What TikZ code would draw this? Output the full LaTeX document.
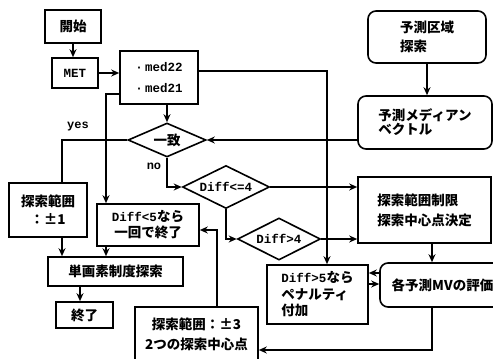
\documentclass[tikz,border=0pt]{standalone}
\usepackage{fontspec}
\setmainfont{Liberation Mono}
\newfontfamily\cjk{Noto Sans CJK JP}
\usetikzlibrary{shapes.geometric,arrows.meta}
\begin{document}
\begin{tikzpicture}[x=1pt,y=-1pt,
  every node/.style={font=\bfseries\fontsize{12.5}{16}\selectfont},
  bx/.style={draw, line width=1.6pt, inner sep=0pt, align=center},
  rbx/.style={bx, rounded corners=8pt},
  dia/.style={draw, line width=1.6pt, shape=diamond, inner sep=0pt, aspect=2.2},
  ln/.style={line width=1.6pt},
  arr/.style={ln, -{Stealth[length=8pt,width=7pt]}},
  lbl/.style={font=\bfseries\fontsize{12}{14}\selectfont}]
\useasboundingbox (0,0) rectangle (493,359);
% nodes
\node[bx, minimum width=56, minimum height=33, font=\cjk\bfseries\fontsize{13.5}{16}\selectfont] (start) at (73,26.5) {開始};
\node[bx, minimum width=46, minimum height=30] (met) at (75,73) {MET};
\node[bx, minimum width=78, minimum height=53, align=left, font=\bfseries\fontsize{12.5}{21}\selectfont] (med) at (159,77.5) {·\,med22\\·\,med21};
\node[dia, minimum width=78, minimum height=34, font=\cjk\bfseries\fontsize{13.5}{16}\selectfont] (itchi) at (167,140) {一致};
\node[rbx, minimum width=118, minimum height=52, align=left, font=\cjk\bfseries\fontsize{13.5}{19}\selectfont] (sr) at (427,37) {予測区域\\探索};
\node[rbx, minimum width=134, minimum height=53, align=left, font=\cjk\bfseries\fontsize{13.5}{14}\selectfont] (pmv) at (425,122.5) {予測メディアン\\ベクトル};
\node[bx, minimum width=78, minimum height=54, font=\cjk\bfseries\fontsize{13.5}{18}\selectfont] (pm1) at (48,210) {探索範囲\\：±1};
\node[bx, minimum width=102, minimum height=42, font=\bfseries\fontsize{12.5}{16}\selectfont] (d5) at (148,225) {Diff<5{\cjk\fontsize{13.5}{16}\selectfont なら}\\{\cjk\fontsize{13.5}{16}\selectfont 一回で終了}};
\node[bx, minimum width=135, minimum height=29, font=\cjk\bfseries\fontsize{13.5}{16}\selectfont] (single) at (115.5,271.5) {単画素制度探索};
\node[bx, minimum width=57, minimum height=26, font=\cjk\bfseries\fontsize{13.5}{16}\selectfont] (end) at (84.5,315) {終了};
\node[bx, minimum width=123, minimum height=55, font=\cjk\bfseries\fontsize{13.5}{20}\selectfont] (pm3) at (196.5,334.5) {探索範囲：±3\\2つの探索中心点};
\node[bx, minimum width=133, minimum height=66, align=left, font=\cjk\bfseries\fontsize{13.5}{20}\selectfont] (lim) at (424.5,210) {探索範囲制限\\探索中心点決定};
\node[dia, minimum width=87, minimum height=43] (d4) at (226,187) {Diff<=4};
\node[dia, minimum width=83, minimum height=42] (d4g) at (279,239) {Diff>4};
\node[rbx, minimum width=125, minimum height=44, font=\cjk\bfseries\fontsize{13.5}{16}\selectfont] (eval) at (442.5,285) {各予測MVの評価};
\node[bx, minimum width=101, minimum height=59, align=left, font=\bfseries\fontsize{12.5}{16.5}\selectfont] (pen) at (317.5,294.5) {Diff>5{\cjk\fontsize{13.5}{16.5}\selectfont なら}\\{\cjk\fontsize{13.5}{16.5}\selectfont ペナルティ}\\{\cjk\fontsize{13.5}{16.5}\selectfont 付加}};
% labels
\node[lbl] (yes) at (78,127) {yes};
\node[lbl] (no) at (154,166) {no};
% connectors
\draw[arr] (start.south) -- (start.south |- met.north);
\draw[arr] (met.east) -- (met.east -| med.west);
\draw[arr] (itchi.north |- med.south) -- (itchi.north);
\draw[arr] ([yshift=6.5pt]med.east) -| ([xshift=9.5pt]pen.north);
\draw[arr] ([yshift=-16.5pt]med.west) -| ([xshift=-42pt]d5.north);
\draw[arr] (sr.south) -- (sr.south |- pmv.north);
\draw[arr] (pmv.west |- itchi.east) -- (itchi.east);
\draw[ln] (itchi.west) -| ([xshift=14pt]pm1.north);
\draw[arr] (itchi.south) |- (d4.west);
\draw[arr] (d4.east) -- (d4.east -| lim.west);
\draw[arr] (d4.south) |- (d4g.west);
\draw[arr] (d4g.east) -- (d4g.east -| lim.west);
\draw[arr] ([xshift=14pt]pm1.south) -- ([xshift=14pt]pm1.south |- single.north);
\draw[arr] ([xshift=-42pt]d5.south) -- ([xshift=-42pt]d5.south |- single.north);
\draw[arr] ([xshift=-35.5pt]single.south) -- ([xshift=-35.5pt]single.south |- end.north);
\draw[arr] ([xshift=7.5pt]lim.south) -- ([xshift=7.5pt]lim.south |- eval.north);
\draw[arr] ([yshift=12pt]eval.west) -- ([yshift=12pt]eval.west -| pen.east);
\draw[arr] ([yshift=10.5pt]pen.east) -- ([yshift=10.5pt]pen.east -| eval.west);
\draw[arr] ([xshift=-10.5pt]eval.south) |- ([yshift=-15.5pt]pm3.east);
\draw[arr] ([xshift=20.5pt]pm3.north) |- ([yshift=-5pt]d5.east);
\end{tikzpicture}
\end{document}
